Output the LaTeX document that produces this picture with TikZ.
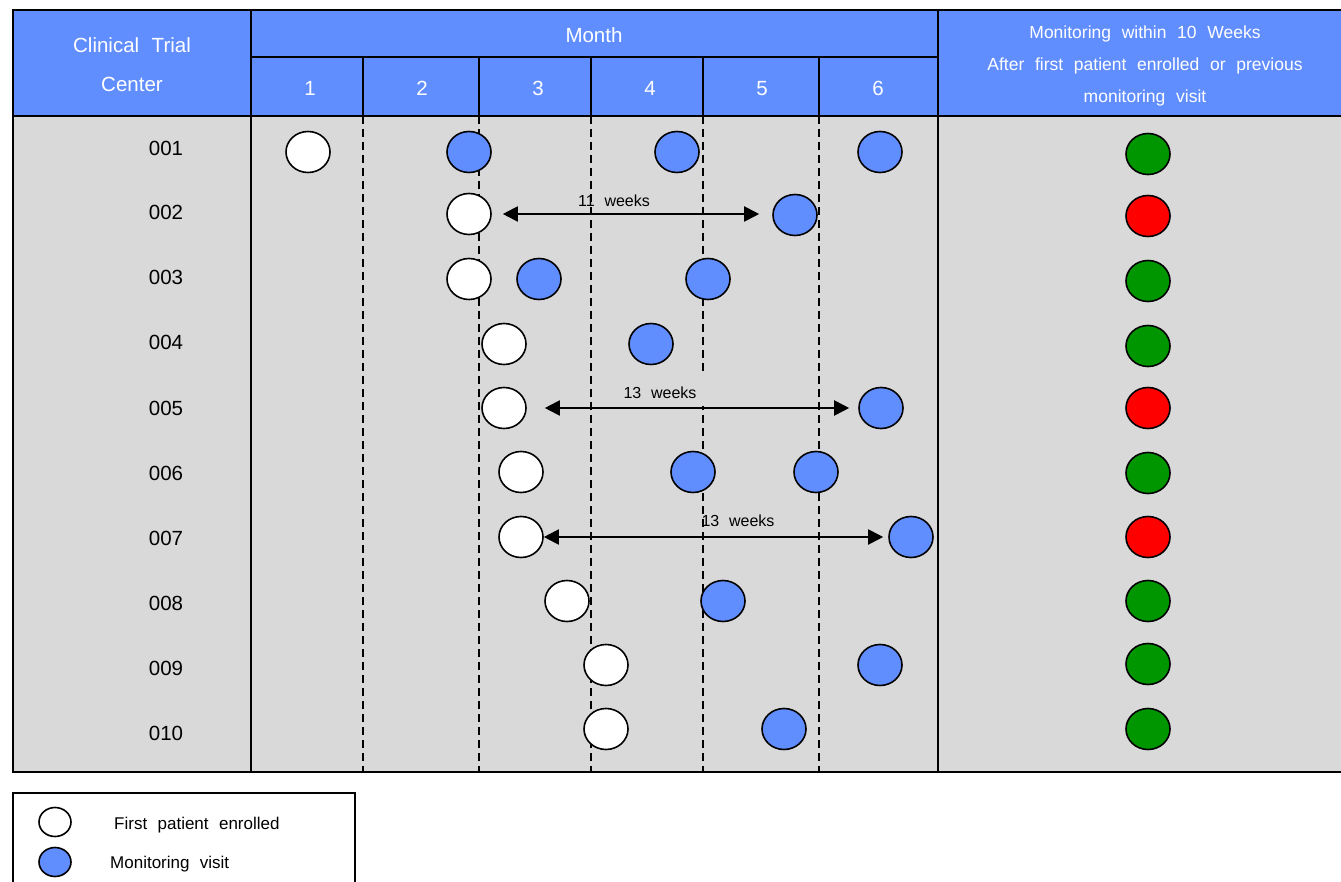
\documentclass[tikz,border=0pt]{standalone}
\usepackage{fontspec}
\setmainfont{Liberation Sans}[WordSpace=2.2]
\usetikzlibrary{shapes.geometric,arrows.meta}
\definecolor{headblue}{RGB}{97,142,255}
\definecolor{bggray}{RGB}{217,217,217}
\definecolor{okgreen}{RGB}{0,150,0}
\definecolor{badred}{RGB}{255,0,0}
\tikzset{
  grid/.style={line width=2pt},
  dgrid/.style={line width=1.8pt,dash pattern=on 8pt off 5pt},
  dot/.style={ellipse,draw,line width=1.6pt,minimum width=44pt,minimum height=41pt,inner sep=0pt},
  fpe/.style={dot,fill=white},
  mv/.style={dot,fill=headblue},
  ok/.style={dot,fill=okgreen},
  bad/.style={dot,fill=badred},
  legdot/.style={minimum width=32pt,minimum height=29pt},
  txt/.style={inner sep=0pt,text depth=0pt},
  htxt/.style={txt,text=white,text height=14.7pt,font=\fontsize{20.5}{24}\selectfont},
  rtxt/.style={txt,text=white,text height=12.5pt,font=\fontsize{17.5}{21}\selectfont},
  rowlab/.style={txt,text height=14.7pt,font=\fontsize{20.5}{24}\selectfont},
  wk/.style={txt,text height=11.5pt,font=\fontsize{16}{19}\selectfont},
  legtxt/.style={txt,text height=12.2pt,font=\fontsize{17}{20}\selectfont,anchor=west},
  dblarrow/.style={line width=2pt,{Triangle[length=15pt,width=15pt]}-{Triangle[length=15pt,width=15pt]}}
}
\begin{document}
\begin{tikzpicture}[x=1pt,y=-1pt]
\useasboundingbox (0,0) rectangle (1341,882);
\begin{scope}
\clip (0,0) rectangle (1341,882);
% backgrounds
\fill[bggray] (13,116) rectangle (1350,772);
\fill[headblue] (13,10) rectangle (1350,116);
% dashed month separators
\foreach \x in {363,479,591,703,819} {
  \draw[dgrid] (\x,116) -- (\x,772);
  \draw[grid] (\x,57) -- (\x,116);
}
% grid lines
\draw[grid] (13,10) rectangle (1350,772);
\draw[grid] (13,116) -- (1350,116);
\draw[grid] (251,57) -- (938,57);
\draw[grid] (251,10) -- (251,772);
\draw[grid] (938,10) -- (938,772);
% legend box
\draw[line width=1.8pt] (13,793) rectangle (355,895);
\end{scope}

% header texts
\node[htxt] (hc1) at (132,45) {Clinical Trial};
\node[htxt] (hc2) at (132,84) {Center};
\node[htxt] (hm) at (594,35) {Month};
\node[htxt] (m1) at (310,88) {1};
\node[htxt] (m2) at (422,88) {2};
\node[htxt] (m3) at (538,88) {3};
\node[htxt] (m4) at (650,88) {4};
\node[htxt] (m5) at (762,88) {5};
\node[htxt] (m6) at (878,88) {6};
\node[rtxt] (r1) at (1145,32) {Monitoring within 10 Weeks};
\node[rtxt] (r2) at (1145,64) {After first patient enrolled or previous};
\node[rtxt] (r3) at (1145,96) {monitoring visit};

% row labels
\node[rowlab] (l1) at (166,148) {001};
\node[rowlab] (l2) at (166,212) {002};
\node[rowlab] (l3) at (166,277) {003};
\node[rowlab] (l4) at (166,342) {004};
\node[rowlab] (l5) at (166,408) {005};
\node[rowlab] (l6) at (166,473) {006};
\node[rowlab] (l7) at (166,538) {007};
\node[rowlab] (l8) at (166,603) {008};
\node[rowlab] (l9) at (166,668) {009};
\node[rowlab] (l10) at (166,733) {010};

% 001
\node[fpe] (w1) at (308,152) {};
\node[mv] (b1a) at (469,152) {};
\node[mv] (b1b) at (677,152) {};
\node[mv] (b1c) at (880,152) {};
\node[ok] (s1) at (1148,154) {};
% 002
\node[fpe] (w2) at (469,214) {};
\node[mv] (b2) at (795,215) {};
\node[bad] (s2) at (1148,216) {};
% 003
\node[fpe] (w3) at (469,279) {};
\node[mv] (b3a) at (539,279) {};
\node[mv] (b3b) at (708,279) {};
\node[ok] (s3) at (1148,281) {};
% 004
\node[fpe] (w4) at (504,344) {};
\node[mv] (b4) at (651,344) {};
\node[ok] (s4) at (1148,346) {};
% 005
\node[fpe] (w5) at (504,408) {};
\node[mv] (b5) at (881,408) {};
\node[bad] (s5) at (1148,408) {};
% 006
\node[fpe] (w6) at (521,472) {};
\node[mv] (b6a) at (693,472) {};
\node[mv] (b6b) at (816,472) {};
\node[ok] (s6) at (1148,473) {};
% 007
\node[fpe] (w7) at (521,537) {};
\node[mv] (b7) at (911,537) {};
\node[bad] (s7) at (1148,537) {};
% 008
\node[fpe] (w8) at (567,601) {};
\node[mv] (b8) at (723,601) {};
\node[ok] (s8) at (1148,601) {};
% 009
\node[fpe] (w9) at (606,665) {};
\node[mv] (b9) at (880,665) {};
\node[ok] (s9) at (1148,664) {};
% 010
\node[fpe] (w10) at (606,729) {};
\node[mv] (b10) at (784,729) {};
\node[ok] (s10) at (1148,729) {};

% interval arrows
\draw[dblarrow,shorten <=11pt,shorten >=13pt] (w2.east) -- (w2.east -| b2.west);
\node[wk] (k2) at (614,201) {11 weeks};
\draw[dblarrow,shorten <=18pt,shorten >=9pt] (w5.east) -- (b5.west);
\node[wk,fill=bggray,minimum width=118pt,text height=23pt,text depth=7pt] (k5) at (660,391) {13 weeks};
\draw[dblarrow,shorten <=0pt,shorten >=5pt] (w7.east) -- (b7.west);
\node[wk] (k7) at (738,521) {13 weeks};

% legend
\node[fpe,legdot] (lw) at (55,822) {};
\node[mv,legdot] (lb) at (55,862) {};
\node[legtxt] (lt1) at (114,823) {First patient enrolled};
\node[legtxt] (lt2) at (110,862) {Monitoring visit};
\end{tikzpicture}
\end{document}
